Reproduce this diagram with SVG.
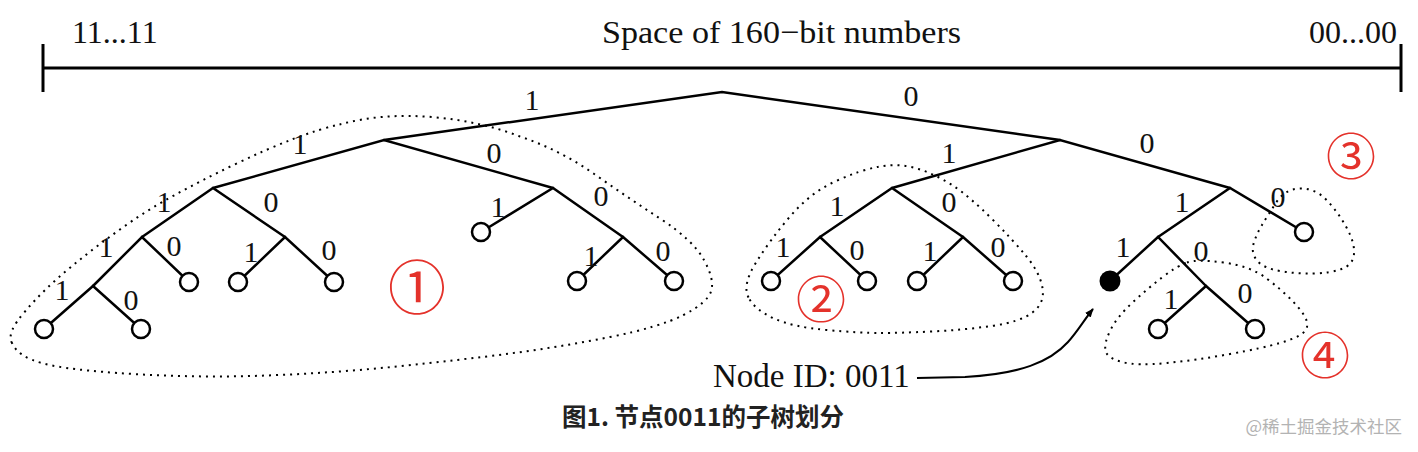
<svg xmlns="http://www.w3.org/2000/svg" width="1418" height="452" viewBox="0 0 1418 452">
<style>
.edge{stroke:#000;stroke-width:2.5;fill:none;stroke-linecap:round}
.axis{stroke:#000;stroke-width:3;fill:none}
.leaf{fill:#fff;stroke:#000;stroke-width:2.5}
.lbl{font-family:"Liberation Serif","DejaVu Serif",serif;font-size:30px;fill:#111;text-anchor:middle}
.top{font-family:"Liberation Serif","DejaVu Serif",serif;font-size:32px;fill:#111}
.region{fill:none;stroke:#000;stroke-width:2;stroke-dasharray:2 5}
.num{font-family:"Noto Sans CJK JP","Noto Sans CJK SC",sans-serif;fill:#e4322b;text-anchor:middle}
</style>
<defs>
<marker id="arr" viewBox="0 0 10 10" refX="9" refY="5" markerWidth="9" markerHeight="9" markerUnits="userSpaceOnUse" orient="auto">
<path d="M0,1 L10,5 L0,9 Z" fill="#000"/>
</marker>
</defs>
<rect width="1418" height="452" fill="#fff"/>

<g id="axis">
<line class="axis" x1="43" y1="68" x2="1401" y2="68"/>
<line class="axis" x1="43" y1="44" x2="43" y2="92"/>
<line class="axis" x1="1401" y1="44" x2="1401" y2="92"/>
<text class="top" x="72" y="43">11...11</text>
<text class="top" x="602" y="43" textLength="359" lengthAdjust="spacingAndGlyphs">Space of 160−bit numbers</text>
<text class="top" x="1397" y="43" text-anchor="end">00...00</text>
</g>

<g id="regions">
<path id="region1" class="region" d="M12,343 Q6,333 25,311.5 Q43,290 71.5,266.5 Q100,243 133.5,220 Q167,197 233.5,165 Q300,133 341.5,124 Q383,113 431.5,117 Q480,121 520,136.5 Q560,150 593.5,173.5 Q627,197 660,218.5 Q693,240 704,260 Q715,280 711,291.5 Q707,303 683.5,315 Q660,327 610,337 Q560,347 510,353.5 Q460,360 396.5,366.5 Q333,373 266.5,375.5 Q200,378 133.5,374 Q67,370 43.5,363.5 Q18,357 12,343 Z"/>
<path id="region2" class="region" d="M748.5,297.5 Q742,285 756,262.5 Q770,240 790,216.5 Q810,193 835,181.5 Q860,170 880,166.5 Q900,163 918.5,169 Q937,175 953.5,186 Q970,197 991.5,218.5 Q1013,240 1026.5,256.5 Q1040,273 1042.5,288 Q1045,303 1032.5,312.5 Q1020,322 991.5,326 Q963,330 931.5,331.5 Q900,333 880,333 Q860,333 826.5,330 Q793,327 774,318.5 Q755,310 748.5,297.5 Z"/>
<path id="region3" class="region" d="M1276.5,202 Q1285,189 1300,188.5 Q1315,188 1326.5,200 Q1338,212 1346.5,227.5 Q1355,243 1354,254 Q1353,265 1341.5,269 Q1330,273 1313.5,273.5 Q1297,274 1280,271 Q1263,268 1257,260.5 Q1251,253 1253.5,244 Q1256,235 1262,225 Q1268,215 1276.5,202 Z"/>
<path id="region4" class="region" d="M1187,262.5 Q1197,259 1223.5,262.5 Q1250,266 1266,278 Q1282,290 1293,301.5 Q1304,313 1306.5,320.5 Q1309,328 1303,333 Q1297,338 1280,343 Q1263,348 1230,354 Q1197,360 1167,363 Q1137,366 1122,362 Q1107,358 1105.5,350.5 Q1104,343 1110.5,330 Q1117,317 1132,303 Q1147,289 1162,277.5 Q1177,266 1187,262.5 Z"/>
</g>

<g id="connectors">
<polyline class="edge" points="384,140 722,92 1060,140"/>
<polyline class="edge" points="213,188 384,140 553,188"/>
<polyline class="edge" points="892,188 1060,140 1230,188"/>
<polyline class="edge" points="142,237 213,188 285,237"/>
<polyline class="edge" points="93,286 142,237 189,282"/>
<polyline class="edge" points="44,329 93,286 141,329"/>
<polyline class="edge" points="238,282 285,237 334,282"/>
<polyline class="edge" points="481,232 553,188 623,237"/>
<polyline class="edge" points="577,281 623,237 674,281"/>
<polyline class="edge" points="820,237 892,188 963,237"/>
<polyline class="edge" points="771,281 820,237 867,281"/>
<polyline class="edge" points="917,281 963,237 1013,281"/>
<polyline class="edge" points="1158,237 1230,188 1304,232"/>
<polyline class="edge" points="1110,281 1158,237 1206,286"/>
<polyline class="edge" points="1158,329 1206,286 1255,329"/>
<path id="arrow" d="M917,378 L965,377 C1020,374 1050,362 1068,342 C1078,331 1084,320 1093,309" fill="none" stroke="#000" stroke-width="2" marker-end="url(#arr)"/>
</g>

<g id="edge-labels">
<text class="lbl" x="532" y="110">1</text>
<text class="lbl" x="911" y="106">0</text>
<text class="lbl" x="300" y="154">1</text>
<text class="lbl" x="494" y="163">0</text>
<text class="lbl" x="949" y="163">1</text>
<text class="lbl" x="1147" y="153">0</text>
<text class="lbl" x="164" y="212">1</text>
<text class="lbl" x="271" y="212">0</text>
<text class="lbl" x="106" y="257">1</text>
<text class="lbl" x="174" y="256">0</text>
<text class="lbl" x="62" y="300">1</text>
<text class="lbl" x="131" y="310">0</text>
<text class="lbl" x="251" y="262">1</text>
<text class="lbl" x="329" y="260">0</text>
<text class="lbl" x="498" y="217">1</text>
<text class="lbl" x="601" y="206">0</text>
<text class="lbl" x="591" y="266">1</text>
<text class="lbl" x="663" y="261">0</text>
<text class="lbl" x="837" y="216">1</text>
<text class="lbl" x="949" y="212">0</text>
<text class="lbl" x="783" y="257">1</text>
<text class="lbl" x="857" y="260">0</text>
<text class="lbl" x="930" y="261">1</text>
<text class="lbl" x="998" y="257">0</text>
<text class="lbl" x="1182" y="212">1</text>
<text class="lbl" x="1278" y="207">0</text>
<text class="lbl" x="1123" y="257">1</text>
<text class="lbl" x="1201" y="261">0</text>
<text class="lbl" x="1171" y="309">1</text>
<text class="lbl" x="1245" y="303">0</text>
</g>

<g id="leaf-1111"><circle class="leaf" cx="44" cy="329" r="9"/></g>
<g id="leaf-1110"><circle class="leaf" cx="141" cy="329" r="9"/></g>
<g id="leaf-110"><circle class="leaf" cx="189" cy="282" r="9"/></g>
<g id="leaf-101"><circle class="leaf" cx="238" cy="282" r="9"/></g>
<g id="leaf-100"><circle class="leaf" cx="334" cy="282" r="9"/></g>
<g id="leaf-01"><circle class="leaf" cx="481" cy="232" r="9"/></g>
<g id="leaf-001"><circle class="leaf" cx="577" cy="281" r="9"/></g>
<g id="leaf-000"><circle class="leaf" cx="674" cy="281" r="9"/></g>
<g id="leaf-b111"><circle class="leaf" cx="771" cy="281" r="9"/></g>
<g id="leaf-b110"><circle class="leaf" cx="867" cy="281" r="9"/></g>
<g id="leaf-b101"><circle class="leaf" cx="917" cy="281" r="9"/></g>
<g id="leaf-b100"><circle class="leaf" cx="1013" cy="281" r="9"/></g>
<g id="leaf-b00"><circle class="leaf" cx="1304" cy="232" r="9"/></g>
<g id="node-0011"><circle cx="1110" cy="281" r="10.5" fill="#000"/></g>
<g id="leaf-b0101"><circle class="leaf" cx="1158" cy="329" r="9"/></g>
<g id="leaf-b0100"><circle class="leaf" cx="1255" cy="329" r="9"/></g>

<g id="subtree-numbers">
<text class="num" x="417" y="309" font-size="58">①</text>
<text class="num" x="821" y="318" font-size="50">②</text>
<text class="num" x="1351" y="175" font-size="50">③</text>
<text class="num" x="1325" y="374" font-size="50">④</text>
</g>

<g id="node-id-label">
<text x="713" y="387" font-family="Liberation Serif, DejaVu Serif, serif" font-size="33" fill="#111">Node ID: 0011</text>
</g>

<g id="caption">
<text x="703" y="426" font-family="Noto Sans CJK SC, sans-serif" font-size="24.5" font-weight="bold" fill="#222" text-anchor="middle">图1. 节点0011的子树划分</text>
<text x="1402" y="433" font-family="Noto Sans CJK SC, sans-serif" font-size="17.5" fill="#b3b3b3" text-anchor="end">@稀土掘金技术社区</text>
</g>
</svg>
